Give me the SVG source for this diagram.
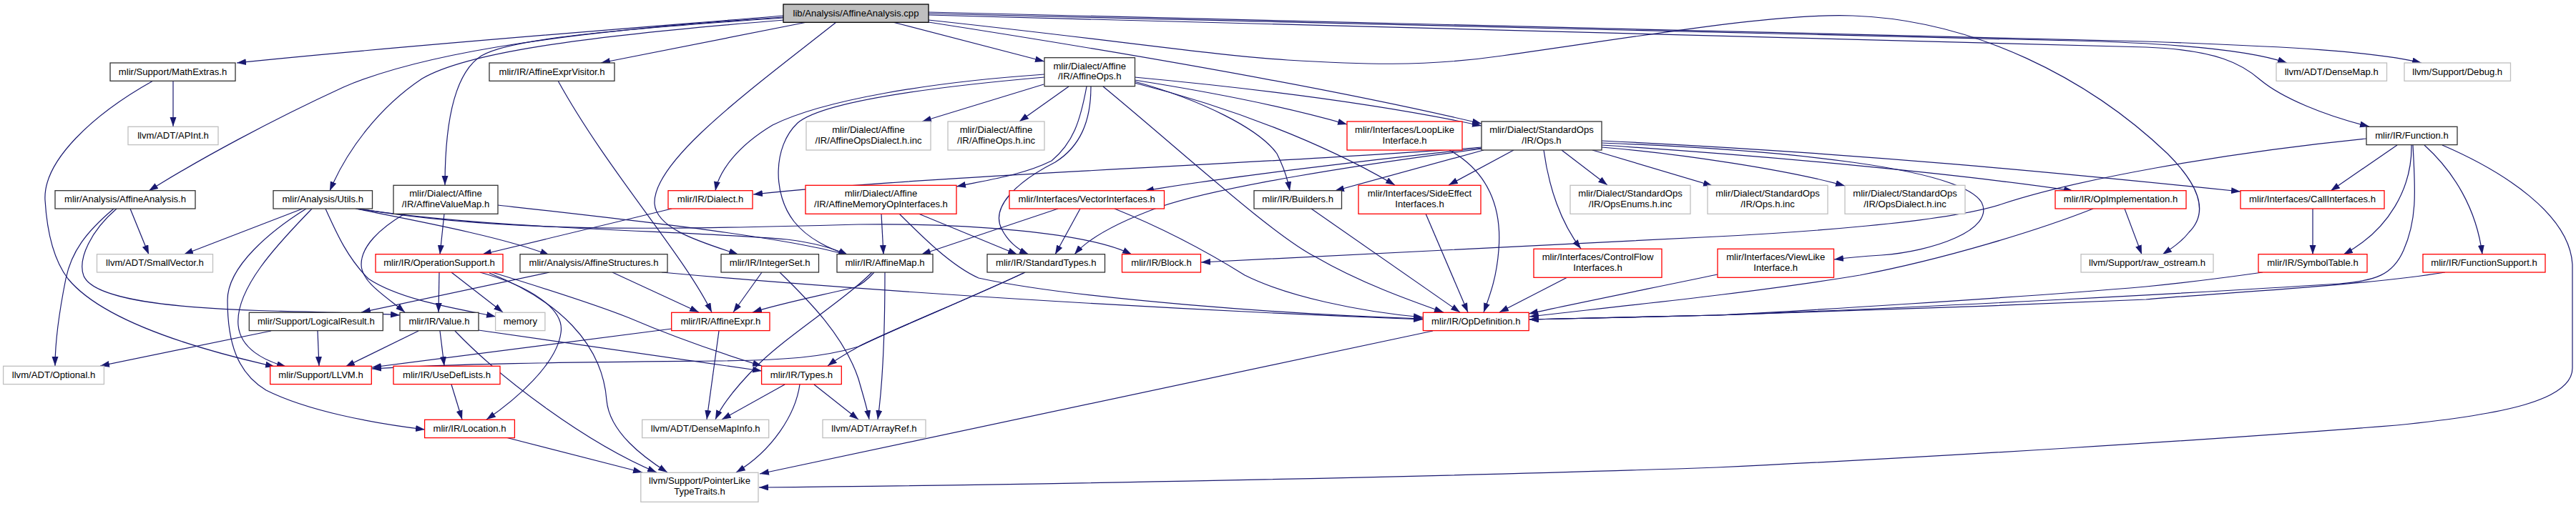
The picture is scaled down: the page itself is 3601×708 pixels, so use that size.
<svg xmlns="http://www.w3.org/2000/svg" width="3601" height="708" viewBox="0 0 3601 708">
<defs>
<marker id="a" markerUnits="userSpaceOnUse" markerWidth="14" markerHeight="10" refX="13" refY="4.5" orient="auto">
<path d="M0,0 L13,4.5 L0,9 z" fill="#191970"/>
</marker>
<style>
rect{fill:#fff;stroke-width:1.3}
.b rect{stroke:#333}
.r rect{stroke:#ff0000}
.g rect{stroke:#bfbfbf}
.root rect{fill:#bfbfbf;stroke:#000}
text{font-family:"Liberation Sans",Arial,sans-serif;font-size:13.1px;text-anchor:middle;fill:#000}
#edges path{fill:none;stroke:#191970;stroke-width:1.2;marker-end:url(#a)}
</style>
</defs>
<rect x="0" y="0" width="3601" height="708" style="fill:#fff;stroke:none"/>
<g id="edges">
<path d="M1095,22 C900,38 560,64 331,88"/>
<path d="M1095,24 C820,42 600,70 480,122 C380,168 280,222 208,267"/>
<path d="M1096,28 C800,52 650,75 590,110 C530,150 485,210 461,267"/>
<path d="M1095,25 C850,42 710,55 673,78 C635,102 622,170 622,259"/>
<path d="M1128,31 L840,88"/>
<path d="M1169,31 C1050,125 912,225 915,285 C918,322 985,340 1032,356"/>
<path d="M1248,31 L1460,86"/>
<path d="M1298,31 C1600,78 1880,128 2071,173"/>
<path d="M1298,19 L2900,57 C3060,61 3150,72 3197,88"/>
<path d="M1298,17 L3000,58 C3200,65 3320,72 3385,88"/>
<path d="M1298,21 L3000,66 C3100,70 3135,90 3160,112 C3190,137 3250,162 3312,177"/>
<path d="M1298,28 C1550,55 1700,78 1800,84 C1900,90 1990,94 2100,78 C2300,50 2480,18 2590,22 C2760,28 2920,110 3030,215 C3080,265 3085,300 3060,325 C3050,338 3035,348 3023,356"/>
<path d="M182,292 L208,356"/>
<path d="M159,292 C120,325 100,352 92,390 C82,440 77,480 77,512"/>
<path d="M163,292 C128,322 108,362 117,386 C132,422 260,432 380,435 C470,437 520,438 559,441"/>
<path d="M242,113 L242,177"/>
<path d="M214,113 C130,160 60,225 63,280 C66,330 76,365 95,390 C140,445 260,485 384,513"/>
<path d="M423,292 L257,356"/>
<path d="M436,292 C400,330 328,400 333,455 C336,488 370,505 400,513"/>
<path d="M428,292 C380,322 318,372 318,420 C318,480 332,522 372,546 C430,575 520,592 594,601"/>
<path d="M455,292 C470,325 485,360 515,390 C560,420 640,432 693,443"/>
<path d="M497,292 C560,305 700,330 768,357"/>
<path d="M499,292 C700,322 950,322 1100,335 C1140,340 1165,347 1185,357"/>
<path d="M501,292 C700,325 900,322 1200,314 C1350,312 1520,325 1582,356"/>
<path d="M566,299 C530,320 505,345 505,370 C505,395 540,415 566,437"/>
<path d="M621,299 L615,356"/>
<path d="M696,287 C900,310 1100,332 1185,357"/>
<path d="M939,292 L674,356"/>
<path d="M780,113 C850,240 955,355 995,437"/>
<path d="M1460,104 C1300,115 1150,140 1080,175 C1030,205 1005,240 1000,267"/>
<path d="M1460,108 C1300,122 1150,142 1115,172 C1080,205 1080,272 1110,310 C1130,335 1160,348 1186,357"/>
<path d="M1459,118 L1289,170"/>
<path d="M1494,121 L1425,170"/>
<path d="M1519,121 C1510,170 1500,200 1470,225 C1430,245 1380,252 1337,261"/>
<path d="M1525,121 C1525,170 1510,205 1475,227 C1420,255 1385,290 1400,320 C1410,340 1425,350 1438,356"/>
<path d="M1542,121 C1650,210 1780,330 1840,360 C1900,395 1970,420 2018,437"/>
<path d="M1586,108 C1800,128 1950,150 2071,176"/>
<path d="M1586,112 C1700,130 1800,150 1883,174"/>
<path d="M1586,116 C1720,150 1850,200 1950,259"/>
<path d="M1586,114 C1680,140 1760,180 1785,215 C1795,235 1800,250 1803,267"/>
<path d="M2071,206 C1800,228 1300,245 1053,272"/>
<path d="M2072,207 C1900,225 1700,250 1600,267"/>
<path d="M2073,208 C1900,230 1700,262 1620,290 C1560,312 1520,335 1502,356"/>
<path d="M2074,210 L1866,267"/>
<path d="M2116,210 L2025,259"/>
<path d="M2158,210 C2165,262 2182,312 2210,348"/>
<path d="M2183,210 L2247,259"/>
<path d="M2226,210 L2394,260"/>
<path d="M2239,206 C2350,215 2500,238 2579,260"/>
<path d="M2239,203 C2500,220 2750,245 2898,267"/>
<path d="M2239,200 C2500,210 2740,235 2770,283 C2790,322 2700,352 2630,357 C2600,359 2580,361 2564,363"/>
<path d="M2239,197 C2600,214 2900,244 3132,268"/>
<path d="M3308,194 C3100,215 2900,252 2800,285 C2720,312 2500,326 2400,331 C2100,345 1800,360 1679,367"/>
<path d="M3351,203 L3258,267"/>
<path d="M3371,203 C3372,262 3340,322 3276,356"/>
<path d="M3373,203 C3376,262 3380,305 3360,350 C3345,385 3320,393 3270,397 C3100,408 2700,430 2400,441 C2300,444 2200,446 2138,447"/>
<path d="M3389,203 C3430,240 3462,292 3470,356"/>
<path d="M3414,203 C3500,240 3592,300 3596,370 L3596,515 C3596,560 3500,580 3350,595 C3100,615 2700,640 2400,654 C2000,668 1400,679 1061,682"/>
<path d="M3418,381 C3300,400 3100,410 3000,419 C2800,428 2500,438 2400,441 C2300,444 2200,446 2138,447"/>
<path d="M3163,381 C3100,390 3050,396 3000,401 C2800,418 2500,436 2400,441 C2300,444 2200,446 2138,447"/>
<path d="M3233,292 L3233,356"/>
<path d="M2970,292 L2994,356"/>
<path d="M2926,292 C2850,322 2720,362 2600,385 C2450,410 2250,430 2138,443"/>
<path d="M2401,384 C2300,405 2200,425 2137,439"/>
<path d="M2191,388 L2096,437"/>
<path d="M2026,210 C2080,240 2100,290 2095,350 C2092,390 2082,415 2074,437"/>
<path d="M1833,292 L2041,437"/>
<path d="M1993,299 L2052,437"/>
<path d="M1479,292 L1288,356"/>
<path d="M1510,292 L1475,356"/>
<path d="M1558,292 C1640,325 1700,360 1740,385 C1800,415 1900,436 1989,444"/>
<path d="M1232,299 L1235,356"/>
<path d="M1257,299 C1290,332 1330,372 1368,389 C1500,418 1800,440 1989,446"/>
<path d="M1284,299 L1422,356"/>
<path d="M856,381 L977,437"/>
<path d="M768,381 L505,437"/>
<path d="M925,381 C1200,406 1600,432 1989,447"/>
<path d="M1065,381 L1025,437"/>
<path d="M1090,381 C1130,420 1180,470 1200,530 C1207,555 1212,570 1215,587"/>
<path d="M1222,381 C1212,392 1205,398 1195,402 C1140,415 1090,425 1052,437"/>
<path d="M1219,381 C1180,420 1100,470 1060,510 C1030,540 1010,565 1000,587"/>
<path d="M1237,381 C1237,450 1235,530 1227,587"/>
<path d="M1433,381 C1350,420 1250,460 1200,485 C1185,494 1170,502 1157,512"/>
<path d="M1433,381 C1350,420 1250,460 1200,485 C1150,500 1100,504 1000,505 C800,507 650,508 520,516"/>
<path d="M1097,538 L1009,587"/>
<path d="M1118,538 C1112,580 1080,630 1029,661"/>
<path d="M1138,538 L1200,587"/>
<path d="M1005,463 L988,587"/>
<path d="M939,460 L520,514"/>
<path d="M585,463 L483,513"/>
<path d="M615,463 L621,512"/>
<path d="M636,463 C700,530 820,620 918,661"/>
<path d="M669,462 L1065,519"/>
<path d="M631,538 L646,587"/>
<path d="M707,612 L898,661"/>
<path d="M379,463 L140,512"/>
<path d="M444,463 L446,512"/>
<path d="M614,381 L613,437"/>
<path d="M631,381 L703,437"/>
<path d="M671,381 C740,400 790,432 784,466 C778,510 720,560 680,587"/>
<path d="M684,382 C780,420 842,480 848,560 C852,605 900,640 933,661"/>
<path d="M688,381 C750,400 830,425 880,445 C950,475 1010,495 1065,512"/>
<path d="M2003,463 L1062,663"/>
</g>
<g id="n-root" class="root"><rect x="1095" y="6" width="203" height="25.3"/><text x="1196.5" y="22.5">lib/Analysis/AffineAnalysis.cpp</text></g>
<g id="n-mathextras" class="b"><rect x="154" y="88" width="175" height="25.3"/><text x="241.5" y="104.5">mlir/Support/MathExtras.h</text></g>
<g id="n-affineexprvisitor" class="b"><rect x="684" y="88" width="175" height="25.3"/><text x="771.5" y="104.5">mlir/IR/AffineExprVisitor.h</text></g>
<g id="n-affineops" class="b"><rect x="1460" y="80.7" width="126.5" height="40"/><text x="1523.2" y="96.7">mlir/Dialect/Affine</text><text x="1523.2" y="111">/IR/AffineOps.h</text></g>
<g id="n-densemap" class="g"><rect x="3182" y="88" width="154.5" height="25.3"/><text x="3259.2" y="104.5">llvm/ADT/DenseMap.h</text></g>
<g id="n-debug" class="g"><rect x="3361" y="88" width="148.5" height="25.3"/><text x="3435.2" y="104.5">llvm/Support/Debug.h</text></g>
<g id="n-apint" class="g"><rect x="179" y="177.3" width="126" height="25.3"/><text x="242" y="193.8">llvm/ADT/APInt.h</text></g>
<g id="n-affineopsdialect" class="g"><rect x="1127" y="170" width="174" height="40"/><text x="1214" y="186">mlir/Dialect/Affine</text><text x="1214" y="200.5">/IR/AffineOpsDialect.h.inc</text></g>
<g id="n-affineopsinc" class="g"><rect x="1325" y="170" width="135" height="40"/><text x="1392.5" y="186">mlir/Dialect/Affine</text><text x="1392.5" y="200.5">/IR/AffineOps.h.inc</text></g>
<g id="n-looplike" class="r"><rect x="1883" y="170" width="161" height="40"/><text x="1963.5" y="186">mlir/Interfaces/LoopLike</text><text x="1963.5" y="200.5">Interface.h</text></g>
<g id="n-opsh" class="b"><rect x="2071" y="170" width="168" height="40"/><text x="2155" y="186">mlir/Dialect/StandardOps</text><text x="2155" y="200.5">/IR/Ops.h</text></g>
<g id="n-function" class="b"><rect x="3308" y="177.3" width="127" height="25.3"/><text x="3371.5" y="193.8">mlir/IR/Function.h</text></g>
<g id="n-affineanalysis" class="b"><rect x="77" y="266.7" width="196" height="25.3"/><text x="175" y="283.2">mlir/Analysis/AffineAnalysis.h</text></g>
<g id="n-utils" class="b"><rect x="382" y="266.7" width="138.5" height="25.3"/><text x="451.2" y="283.2">mlir/Analysis/Utils.h</text></g>
<g id="n-affinevaluemap" class="b"><rect x="550" y="259.3" width="146" height="40"/><text x="623" y="275.3">mlir/Dialect/Affine</text><text x="623" y="289.8">/IR/AffineValueMap.h</text></g>
<g id="n-dialect" class="r"><rect x="934" y="266.7" width="118" height="25.3"/><text x="993" y="283.2">mlir/IR/Dialect.h</text></g>
<g id="n-affinememoryop" class="r"><rect x="1126" y="259.3" width="211" height="40"/><text x="1231.5" y="275.3">mlir/Dialect/Affine</text><text x="1231.5" y="289.8">/IR/AffineMemoryOpInterfaces.h</text></g>
<g id="n-vectorinterfaces" class="r"><rect x="1411" y="266.7" width="216.5" height="25.3"/><text x="1519.2" y="283.2">mlir/Interfaces/VectorInterfaces.h</text></g>
<g id="n-builders" class="b"><rect x="1753" y="266.7" width="122.5" height="25.3"/><text x="1814.2" y="283.2">mlir/IR/Builders.h</text></g>
<g id="n-sideeffect" class="r"><rect x="1899" y="259.3" width="171" height="40"/><text x="1984.5" y="275.3">mlir/Interfaces/SideEffect</text><text x="1984.5" y="289.8">Interfaces.h</text></g>
<g id="n-opsenums" class="g"><rect x="2195" y="259.3" width="168" height="40"/><text x="2279" y="275.3">mlir/Dialect/StandardOps</text><text x="2279" y="289.8">/IR/OpsEnums.h.inc</text></g>
<g id="n-opsinc" class="g"><rect x="2387" y="259.3" width="168" height="40"/><text x="2471" y="275.3">mlir/Dialect/StandardOps</text><text x="2471" y="289.8">/IR/Ops.h.inc</text></g>
<g id="n-opsdialect" class="g"><rect x="2579" y="259.3" width="168" height="40"/><text x="2663" y="275.3">mlir/Dialect/StandardOps</text><text x="2663" y="289.8">/IR/OpsDialect.h.inc</text></g>
<g id="n-opimplementation" class="r"><rect x="2873" y="266.7" width="183" height="25.3"/><text x="2964.5" y="283.2">mlir/IR/OpImplementation.h</text></g>
<g id="n-callinterfaces" class="r"><rect x="3132" y="266.7" width="201" height="25.3"/><text x="3232.5" y="283.2">mlir/Interfaces/CallInterfaces.h</text></g>
<g id="n-smallvector" class="g"><rect x="135.5" y="355.7" width="162" height="25.3"/><text x="216.5" y="372.2">llvm/ADT/SmallVector.h</text></g>
<g id="n-operationsupport" class="r"><rect x="525" y="355.7" width="178" height="25.3"/><text x="614" y="372.2">mlir/IR/OperationSupport.h</text></g>
<g id="n-affinestructures" class="b"><rect x="727" y="355.7" width="206" height="25.3"/><text x="830" y="372.2">mlir/Analysis/AffineStructures.h</text></g>
<g id="n-integerset" class="b"><rect x="1008" y="355.7" width="136.5" height="25.3"/><text x="1076.2" y="372.2">mlir/IR/IntegerSet.h</text></g>
<g id="n-affinemap" class="b"><rect x="1170" y="355.7" width="134" height="25.3"/><text x="1237" y="372.2">mlir/IR/AffineMap.h</text></g>
<g id="n-standardtypes" class="b"><rect x="1380" y="355.7" width="164.5" height="25.3"/><text x="1462.2" y="372.2">mlir/IR/StandardTypes.h</text></g>
<g id="n-block" class="r"><rect x="1568.5" y="355.7" width="110" height="25.3"/><text x="1623.5" y="372.2">mlir/IR/Block.h</text></g>
<g id="n-controlflow" class="r"><rect x="2144" y="348.3" width="179" height="40"/><text x="2233.5" y="364.3">mlir/Interfaces/ControlFlow</text><text x="2233.5" y="378.8">Interfaces.h</text></g>
<g id="n-viewlike" class="r"><rect x="2401" y="348.3" width="162.5" height="40"/><text x="2482.2" y="364.3">mlir/Interfaces/ViewLike</text><text x="2482.2" y="378.8">Interface.h</text></g>
<g id="n-rawostream" class="g"><rect x="2909" y="355.7" width="185" height="25.3"/><text x="3001.5" y="372.2">llvm/Support/raw_ostream.h</text></g>
<g id="n-symboltable" class="r"><rect x="3157" y="355.7" width="152" height="25.3"/><text x="3233" y="372.2">mlir/IR/SymbolTable.h</text></g>
<g id="n-functionsupport" class="r"><rect x="3387" y="355.7" width="171" height="25.3"/><text x="3472.5" y="372.2">mlir/IR/FunctionSupport.h</text></g>
<g id="n-logicalresult" class="b"><rect x="348.3" y="437.3" width="187" height="25.3"/><text x="441.8" y="453.8">mlir/Support/LogicalResult.h</text></g>
<g id="n-value" class="b"><rect x="559" y="437.3" width="110" height="25.3"/><text x="614" y="453.8">mlir/IR/Value.h</text></g>
<g id="n-memory" class="g"><rect x="692.6" y="437.3" width="69.3" height="25.3"/><text x="727.3" y="453.8">memory</text></g>
<g id="n-affineexpr" class="r"><rect x="938.7" y="437.3" width="137.3" height="25.3"/><text x="1007.3" y="453.8">mlir/IR/AffineExpr.h</text></g>
<g id="n-opdefinition" class="r"><rect x="1989.4" y="437.3" width="147.8" height="25.3"/><text x="2063.3" y="453.8">mlir/IR/OpDefinition.h</text></g>
<g id="n-optional" class="g"><rect x="4.6" y="512.3" width="140.8" height="25.3"/><text x="75" y="528.8">llvm/ADT/Optional.h</text></g>
<g id="n-llvm" class="r"><rect x="377.7" y="512.3" width="141.6" height="25.3"/><text x="448.5" y="528.8">mlir/Support/LLVM.h</text></g>
<g id="n-usedeflists" class="r"><rect x="550" y="512.3" width="149" height="25.3"/><text x="624.5" y="528.8">mlir/IR/UseDefLists.h</text></g>
<g id="n-types" class="r"><rect x="1064.6" y="512.3" width="111.7" height="25.3"/><text x="1120.5" y="528.8">mlir/IR/Types.h</text></g>
<g id="n-location" class="r"><rect x="593.6" y="587.3" width="125.8" height="25.3"/><text x="656.5" y="603.8">mlir/IR/Location.h</text></g>
<g id="n-densemapinfo" class="g"><rect x="897.7" y="587.3" width="177" height="25.3"/><text x="986.2" y="603.8">llvm/ADT/DenseMapInfo.h</text></g>
<g id="n-arrayref" class="g"><rect x="1150" y="587.3" width="144" height="25.3"/><text x="1222" y="603.8">llvm/ADT/ArrayRef.h</text></g>
<g id="n-pointerlike" class="g"><rect x="895.8" y="661.3" width="164.2" height="41"/><text x="978" y="677.3">llvm/Support/PointerLike</text><text x="978" y="691.8">TypeTraits.h</text></g>
</svg>
